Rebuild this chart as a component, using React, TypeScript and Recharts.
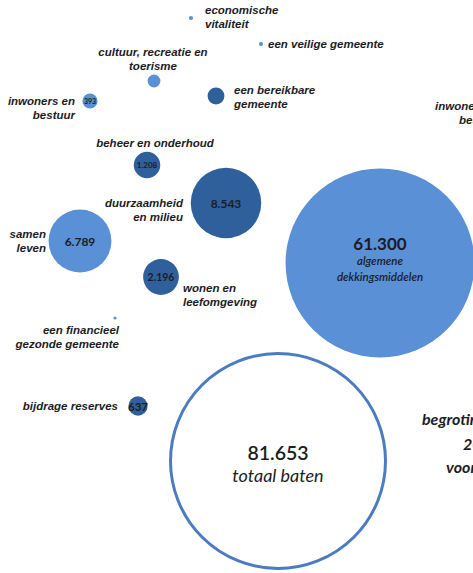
import { ScatterChart, Scatter, XAxis, YAxis, ZAxis } from 'recharts'

// Programma's (x 1.000 euro), positions on a free 473 x 573 canvas
const NAMES = [
  'economische\nvitaliteit',
  'een veilige gemeente',
  'cultuur, recreatie en\ntoerisme',
  'een bereikbare\ngemeente',
  'inwoners en\nbestuur',
  'beheer en onderhoud',
  'duurzaamheid\nen milieu',
  'samen\nleven',
  'wonen en\nleefomgeving',
  'een financieel\ngezonde gemeente',
  'algemene\ndekkingsmiddelen',
  'bijdrage reserves',
  'totaal baten',
]
const VALUES = [31, 30, 280, 490, 393, 1208, 8543, 6789, 2196, 18, 61300, 637, 81653]
const POS_X = [191, 261, 154, 216, 90, 147, 226, 80, 161, 115, 380, 138, 278]
const POS_Y = [18, 44, 81, 96, 101, 165, 203, 241, 277, 318, 263, 406, 461]
const GROUP = ['light', 'light', 'light', 'dark', 'light', 'dark', 'dark', 'light', 'dark', 'light', 'light', 'dark', 'total']
const SHOW_VALUE = [false, false, false, false, true, true, true, true, true, false, true, true, true]

const TOTAL = 81653
const MAX_R = 109

const COLORS = {
  light: '#5990d6',
  dark: '#30609c',
  total: '#4b7cc1',
  text: '#1c1c24',
}

// where the name label sits relative to the bubble centre
const LABEL_LAYOUT: Record<string, { dx: number; dy: number; anchor: 'start' | 'middle' | 'end'; valueSize: number }> = {
  'economische\nvitaliteit': { dx: 14, dy: -1, anchor: 'start', valueSize: 0 },
  'een veilige gemeente': { dx: 7, dy: 0, anchor: 'start', valueSize: 0 },
  'cultuur, recreatie en\ntoerisme': { dx: -1, dy: -22, anchor: 'middle', valueSize: 0 },
  'een bereikbare\ngemeente': { dx: 18, dy: 1, anchor: 'start', valueSize: 0 },
  'inwoners en\nbestuur': { dx: -15, dy: 7, anchor: 'end', valueSize: 7 },
  'beheer en onderhoud': { dx: 8, dy: -22, anchor: 'middle', valueSize: 8 },
  'duurzaamheid\nen milieu': { dx: -43, dy: 7, anchor: 'end', valueSize: 12 },
  'samen\nleven': { dx: -34, dy: 0, anchor: 'end', valueSize: 12 },
  'wonen en\nleefomgeving': { dx: 22, dy: 18, anchor: 'start', valueSize: 10.5 },
  'een financieel\ngezonde gemeente': { dx: 4, dy: 19, anchor: 'end', valueSize: 0 },
  'algemene\ndekkingsmiddelen': { dx: 0, dy: 0, anchor: 'middle', valueSize: 17 },
  'bijdrage reserves': { dx: -20, dy: 0, anchor: 'end', valueSize: 11.5 },
  'totaal baten': { dx: 0, dy: 0, anchor: 'middle', valueSize: 19.5 },
}

const data = NAMES.map((name, i) => ({
  name,
  value: VALUES[i],
  x: POS_X[i],
  y: POS_Y[i],
  group: GROUP[i],
  showValue: SHOW_VALUE[i],
}))

const fmt = (v: number) => String(v).replace(/\B(?=(\d{3})+(?!\d))/g, '.')

const LABEL_FONT = '"Liberation Sans", Arial, sans-serif'
const NUM_FONT = 'Lato, "Open Sans", sans-serif'

function Bubble(props: any) {
  const { cx, cy, payload } = props
  const r = props.width ? props.width / 2 : Math.sqrt((props.size || 0) / Math.PI)
  const lay = LABEL_LAYOUT[payload.name]
  const lines: string[] = payload.name.split('\n')
  const isTotal = payload.group === 'total'
  const isBig = payload.value > 20000

  return (
    <g>
      <circle
        cx={cx}
        cy={cy}
        r={isTotal ? r - 1.5 : r}
        fill={isTotal ? '#ffffff' : payload.group === 'dark' ? COLORS.dark : COLORS.light}
        stroke={isTotal ? COLORS.total : 'none'}
        strokeWidth={isTotal ? 3 : 0}
      />
      {payload.showValue && (
        <text
          x={cx}
          y={isBig ? cy + (isTotal ? -9 : -20) : cy}
          textAnchor="middle"
          dominantBaseline="central"
          fontFamily={NUM_FONT}
          fontWeight={isTotal ? 600 : 700}
          fontSize={lay.valueSize}
          fill={COLORS.text}
        >
          {fmt(payload.value)}
        </text>
      )}
      {isBig ? (
        lines.map((l, i) => (
          <text
            key={i}
            x={cx}
            y={isTotal ? cy + 14 : cy - 3 + i * 16}
            textAnchor="middle"
            dominantBaseline="central"
            fontFamily={NUM_FONT}
            fontStyle="italic"
            fontWeight={isTotal ? 400 : 600}
            fontSize={isTotal ? 18 : 11.5}
            fill={COLORS.text}
          >
            {l}
          </text>
        ))
      ) : (
        lines.map((l, i) => (
          <text
            key={i}
            x={cx + lay.dx}
            y={cy + lay.dy + (i - (lines.length - 1) / 2) * 13.5}
            textAnchor={lay.anchor}
            dominantBaseline="central"
            fontFamily={LABEL_FONT}
            fontStyle="italic"
            fontWeight={700}
            fontSize={11.5}
            fill={COLORS.text}
          >
            {l}
          </text>
        ))
      )}
    </g>
  )
}

// fragments of the neighbouring chart, cut off at the right edge
const EDGE_TEXT = [
  { text: 'inwoners en', x: 435, y: 106, font: LABEL_FONT, size: 11.5 },
  { text: 'bestuur', x: 459, y: 120, font: LABEL_FONT, size: 11.5 },
  { text: 'begroting', x: 422, y: 418, font: NUM_FONT, size: 16 },
  { text: '2016', x: 463, y: 443, font: NUM_FONT, size: 16 },
  { text: 'voorlopig', x: 446, y: 466, font: NUM_FONT, size: 16 },
]

export default function App() {
  return (
    <div style={{ position: 'absolute', left: 0, top: 0, width: 473, height: 573, overflow: 'hidden', background: '#fff' }}>
      <ScatterChart width={473} height={573} margin={{ top: 0, right: 0, bottom: 0, left: 0 }}>
        <XAxis type="number" dataKey="x" domain={[0, 473]} hide />
        <YAxis type="number" dataKey="y" domain={[0, 573]} reversed hide />
        <ZAxis type="number" dataKey="value" domain={[0, TOTAL]} range={[0, Math.PI * MAX_R * MAX_R]} />
        <Scatter data={data} shape={Bubble} isAnimationActive={false} />
      </ScatterChart>
      <svg width={473} height={573} style={{ position: 'absolute', left: 0, top: 0, pointerEvents: 'none' }}>
        {EDGE_TEXT.map((t, i) => (
          <text
            key={i}
            x={t.x}
            y={t.y}
            dominantBaseline="central"
            fontFamily={t.font}
            fontStyle="italic"
            fontWeight={700}
            fontSize={t.size}
            fill={COLORS.text}
          >
            {t.text}
          </text>
        ))}
      </svg>
    </div>
  )
}
